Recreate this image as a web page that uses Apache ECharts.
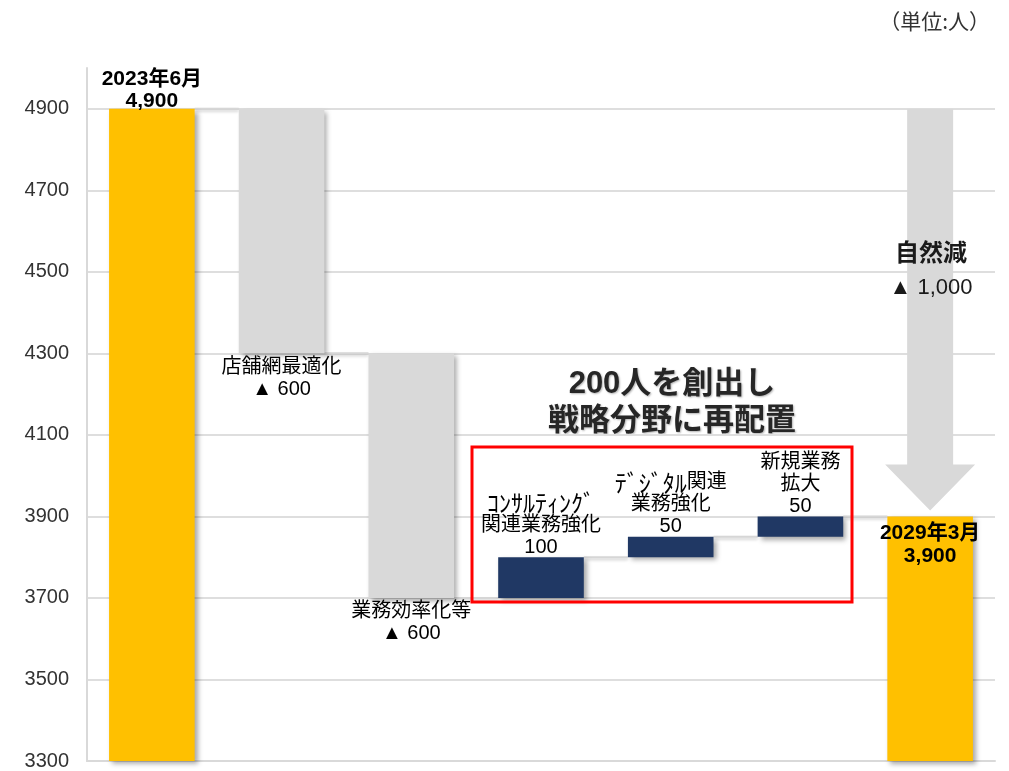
<!DOCTYPE html>
<html>
<head>
<meta charset="utf-8">
<script src="https://cdn.jsdelivr.net/npm/echarts@6/dist/echarts.min.js"></script>
<style>
  html, body { margin: 0; padding: 0; background: #fff; }
  #WaterfallChart { width: 1009px; height: 771px; }
</style>
</head>
<body>
<div id="WaterfallChart"></div>
<script>
// カテゴリ名（改行込み、{k|...} は半角カナ用の書式）
const categories = ['2023年6月', '店舗網最適化', '業務効率化等', '{k|ｺﾝｻﾙﾃｨﾝｸﾞ}\n関連業務強化', '{k|ﾃﾞｼﾞﾀﾙ}関連\n業務強化', '新規業務\n拡大', '2029年3月'];
const startValue = 4900;
const changes = [-600, -600, 100, 50, 50];
const endValue = 3900;
const yTicks = [3300, 3500, 3700, 3900, 4100, 4300, 4500, 4700, 4900];
const yMax = 5000;

const fmt = v => Math.abs(v).toLocaleString('en-US');
const GOLD = '#FFC000', GRAY = '#D9D9D9', NAVY = '#203864';
const FONT = "'Liberation Sans', 'Noto Sans CJK JP', sans-serif";

// 積み上げ用のベースと差分
const bases = [0];
const deltas = [startValue];
const levels = [startValue];
let running = startValue;
changes.forEach(c => {
  const low = c < 0 ? running + c : running;
  bases.push(low);
  deltas.push(Math.abs(c));
  running += c;
  levels.push(running);
});
bases.push(0);
deltas.push(endValue);
levels.push(endValue);

const barItems = deltas.map((d, i) => {
  const isTotal = i === 0 || i === deltas.length - 1;
  const c = isTotal ? 0 : changes[i - 1];
  let text;
  if (isTotal) text = categories[i] + '\n' + fmt(i === 0 ? startValue : endValue);
  else if (c < 0) text = categories[i] + '\n▲ ' + fmt(c);
  else text = categories[i] + '\n' + fmt(c);
  const label = {
    show: true,
    formatter: text,
    color: '#000',
    fontFamily: FONT,
    fontSize: 20,
    lineHeight: 22,
    rich: {
      k: { fontFamily: "'Noto Sans CJK JP', sans-serif", fontSize: 24, lineHeight: 22, color: '#000' }
    }
  };
  if (i === 0) {
    Object.assign(label, { position: 'top', distance: -3, fontWeight: 'bold', fontSize: 21, lineHeight: 22 });
  } else if (isTotal) {
    Object.assign(label, { position: 'insideTop', distance: 5, fontWeight: 'bold', fontSize: 21, lineHeight: 23 });
  } else if (c < 0) {
    Object.assign(label, { position: 'bottom', distance: 3 });
  } else {
    Object.assign(label, { position: 'top', distance: -1 });
  }
  return {
    value: d,
    itemStyle: { color: isTotal ? GOLD : (c < 0 ? GRAY : NAVY) },
    label
  };
});

// 隣の棒へのつなぎ線
const connectors = levels.slice(0, -1).map((v, i) => [i, v]);

const chart = echarts.init(document.getElementById('WaterfallChart'));

const option = {
  animation: false,
  grid: { left: 87, right: 14, top: 68, bottom: 9, containLabel: false },
  xAxis: {
    type: 'category',
    data: categories,
    axisLine: { show: true, lineStyle: { color: '#d9d9d9', width: 2 } },
    axisTick: { show: false },
    axisLabel: { show: false }
  },
  yAxis: {
    type: 'value',
    min: yTicks[0],
    max: yMax,
    interval: yTicks[1] - yTicks[0],
    axisLine: { show: true, lineStyle: { color: '#d9d9d9', width: 2 } },
    axisTick: { show: false },
    axisLabel: {
      color: '#333',
      fontFamily: "'Liberation Sans', sans-serif",
      fontSize: 20,
      margin: 18,
      formatter: v => (yTicks.indexOf(v) >= 0 ? String(v) : '')
    },
    splitLine: {
      lineStyle: {
        color: yTicks.map(() => '#dedede').concat(['rgba(0,0,0,0)']),
        width: 2
      }
    }
  },
  series: [
    {
      type: 'bar',
      stack: 'wf',
      silent: true,
      barWidth: '66%',
      itemStyle: { color: 'rgba(0,0,0,0)' },
      data: bases
    },
    {
      type: 'bar',
      stack: 'wf',
      barWidth: '66%',
      itemStyle: {
        shadowColor: 'rgba(0,0,0,0.35)',
        shadowBlur: 5,
        shadowOffsetX: 3,
        shadowOffsetY: 3
      },
      data: barItems,
      z: 3
    },
    {
      type: 'custom',
      silent: true,
      z: 2,
      data: connectors,
      renderItem: (params, api) => {
        const p = api.coord([api.value(0), api.value(1)]);
        const band = api.size([1, 0])[0];
        const half = band * 0.33;
        return {
          type: 'line',
          shape: { x1: p[0] + half, y1: p[1], x2: p[0] + band - half, y2: p[1] },
          style: {
            stroke: '#d6d6d6',
            lineWidth: 2,
            shadowColor: 'rgba(0,0,0,0.2)',
            shadowBlur: 3,
            shadowOffsetY: 2
          }
        };
      }
    },
    {
      // 自然減の矢印
      type: 'custom',
      silent: true,
      z: 1,
      data: [[categories.length - 1, startValue, endValue]],
      renderItem: (params, api) => {
        const top = api.coord([api.value(0), api.value(1)]);
        const bot = api.coord([api.value(0), api.value(2)]);
        const cx = top[0];
        const tipY = bot[1] - 6;
        const headY = tipY - 46;
        const sw = 23, hw = 45;
        return {
          type: 'polygon',
          shape: {
            points: [
              [cx - sw, top[1]], [cx + sw, top[1]], [cx + sw, headY], [cx + hw, headY],
              [cx, tipY], [cx - hw, headY], [cx - sw, headY]
            ]
          },
          style: { fill: GRAY }
        };
      }
    }
  ],
  graphic: [
    {
      type: 'text',
      right: 19,
      top: 11,
      style: { text: '（単位:人）', fill: '#333', font: "21px 'Noto Sans CJK JP', sans-serif" }
    },
    {
      type: 'text',
      x: 672,
      y: 403,
      style: {
        text: '200人を創出し\n戦略分野に再配置',
        fill: '#262626',
        font: "bold 31px 'Liberation Sans', 'Noto Sans CJK JP', sans-serif",
        lineHeight: 37,
        align: 'center',
        verticalAlign: 'middle',
        textShadowColor: 'rgba(0,0,0,0.3)',
        textShadowBlur: 2,
        textShadowOffsetX: 1,
        textShadowOffsetY: 1
      }
    },
    {
      type: 'rect',
      shape: { x: 472, y: 447, width: 380, height: 155 },
      style: { fill: 'none', stroke: '#FF0000', lineWidth: 3 },
      z: 10
    },
    {
      type: 'text',
      x: 931,
      y: 252,
      style: {
        text: '自然減',
        fill: '#1a1a1a',
        font: "bold 24px 'Noto Sans CJK JP', sans-serif",
        align: 'center',
        verticalAlign: 'middle'
      },
      z: 10
    },
    {
      type: 'text',
      x: 931,
      y: 288,
      style: {
        text: '▲ ' + fmt(startValue - endValue),
        fill: '#1a1a1a',
        font: "22px 'Liberation Sans', 'Noto Sans CJK JP', sans-serif",
        align: 'center',
        verticalAlign: 'middle'
      },
      z: 10
    }
  ]
};

chart.setOption(option);
</script>
</body>
</html>
